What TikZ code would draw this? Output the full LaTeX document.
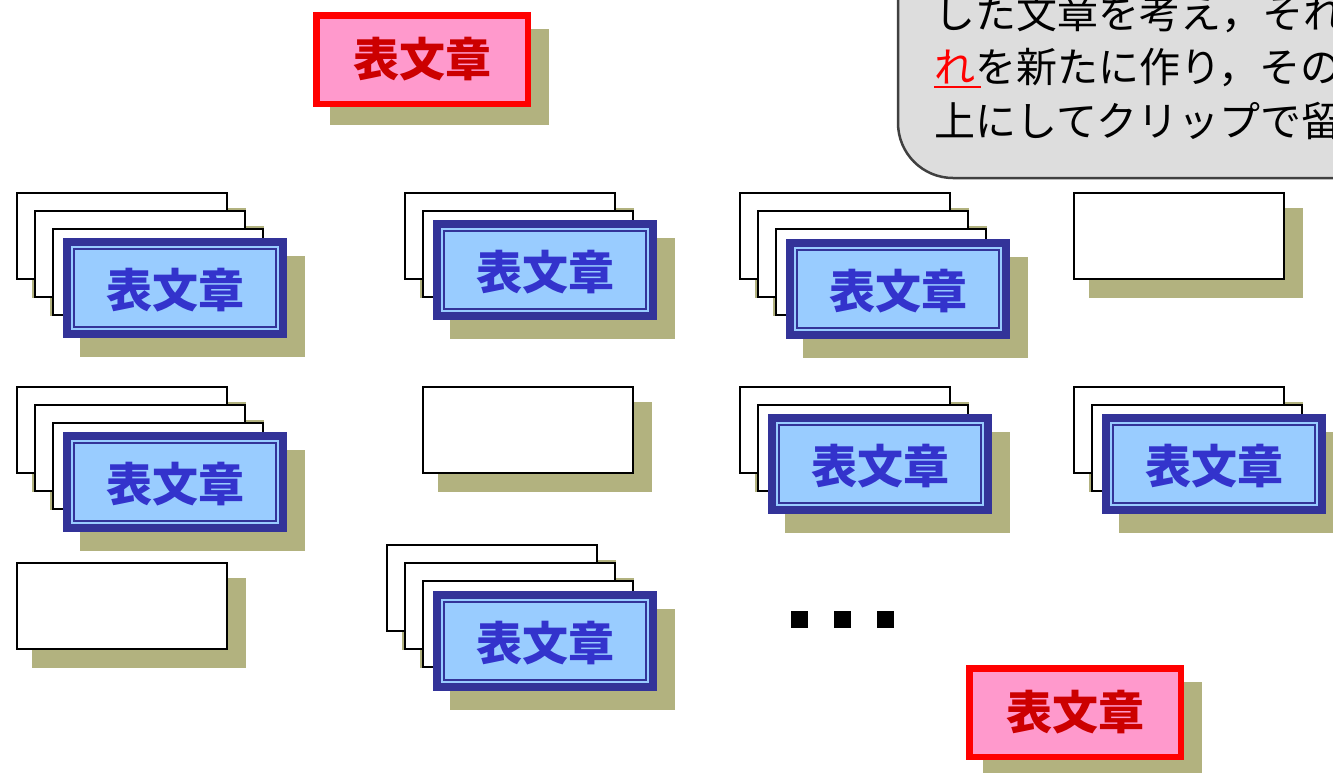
\documentclass[tikz,border=0pt]{standalone}
\usepackage{fontspec}
\newfontfamily\jp{Noto Sans CJK JP}
\definecolor{olive1}{HTML}{B2B27F}
\definecolor{dkblue}{HTML}{333399}
\definecolor{ltblue}{HTML}{99CCFF}
\definecolor{btxt}{HTML}{3333CC}
\definecolor{pink1}{HTML}{FF99CC}
\definecolor{rtxt}{HTML}{CC0000}
\definecolor{callfill}{HTML}{DDDDDD}
\definecolor{calldraw}{HTML}{404040}
\newcommand\wcard[3]{%
  \fill[olive1] (#2+16,#3+16) rectangle ++(214,90);
  \node[wbox] (#1) at (#2+1,#3+1) {};}
\newcommand\bcard[3]{%
  \fill[olive1] (#2+17,#3+18) rectangle ++(225,101);
  \fill[dkblue] (#2,#3) rectangle ++(224,100);
  \fill[ltblue] (#2+8,#3+8) rectangle ++(208,84);
  \draw[dkblue,line width=2pt] (#2+11,#3+11) rectangle ++(202,78);
  \node[btext] (#1) at (#2+112,#3+52) {表文章};}
\newcommand\rbox[3]{%
  \fill[olive1] (#2+17,#3+17) rectangle ++(219,96);
  \node[redbox] (#1) at (#2+109,#3+47.5) {表文章};}
\begin{document}
\begin{tikzpicture}[x=1pt,y=-1pt,
  wbox/.style={draw=black,line width=2pt,fill=white,minimum width=210pt,minimum height=86pt,inner sep=0pt,outer sep=0pt,anchor=north west},
  btext/.style={text=btxt,inner sep=0pt,font={\jp\bfseries\fontsize{46}{50}\selectfont}},
  redbox/.style={draw=red,fill=pink1,line width=6.5pt,minimum width=211.5pt,minimum height=88.5pt,inner sep=0pt,text=rtxt,font={\jp\bfseries\fontsize{46}{50}\selectfont}},
  ctext/.style={anchor=base west,inner sep=0pt,text=black,font={\jp\fontsize{41}{54}\selectfont}},
  sq/.style={fill=black,minimum size=17pt,inner sep=0pt,outer sep=0pt}]
\useasboundingbox (0,0) rectangle (1333,772);
\clip (0,0) rectangle (1333,772);
% callout
\draw[draw=calldraw,fill=callfill,line width=2.5pt,rounded corners=55pt] (898,-80) rectangle (1420,178);
\node[ctext] (l1) at (934,28) {した文章を考え，それ};
\node[ctext] (l2) at (934,82) {{\color{red}れ}を新たに作り，その};
\node[ctext] (l3) at (934,136) {上にしてクリップで留};
\draw[red,line width=2.5pt] ([yshift=-5pt]l2.base west) -- ++(47,0);
% red boxes
\rbox{r1}{313}{12}
\rbox{r2}{966}{665}
% group A
\wcard{a1}{16}{192}\wcard{a2}{34}{210}\wcard{a3}{52}{228}\bcard{a4}{63}{238}
% group B
\wcard{b1}{404}{192}\wcard{b2}{422}{210}\bcard{b3}{433}{220}
% group C
\wcard{c1}{739}{192}\wcard{c2}{757}{210}\wcard{c3}{775}{228}\bcard{c4}{786}{239}
% group D
\wcard{d1}{1073}{192}
% group E
\wcard{e1}{16}{386}\wcard{e2}{34}{404}\wcard{e3}{52}{422}\bcard{e4}{63}{432}
% group F
\wcard{f1}{16}{562}
% group G
\wcard{g1}{422}{386}
% group H
\wcard{h1}{739}{386}\wcard{h2}{757}{404}\bcard{h3}{768}{414}
% group I
\wcard{i1}{1073}{386}\wcard{i2}{1091}{404}\bcard{i3}{1102}{414}
% group J
\wcard{j1}{386}{544}\wcard{j2}{404}{562}\wcard{j3}{422}{580}\bcard{j4}{433}{591}
% dots
\node[sq] (s1) at (799.5,619.5) {};
\node[sq] (s2) at (842.5,619.5) {};
\node[sq] (s3) at (885.5,619.5) {};
\end{tikzpicture}
\end{document}
